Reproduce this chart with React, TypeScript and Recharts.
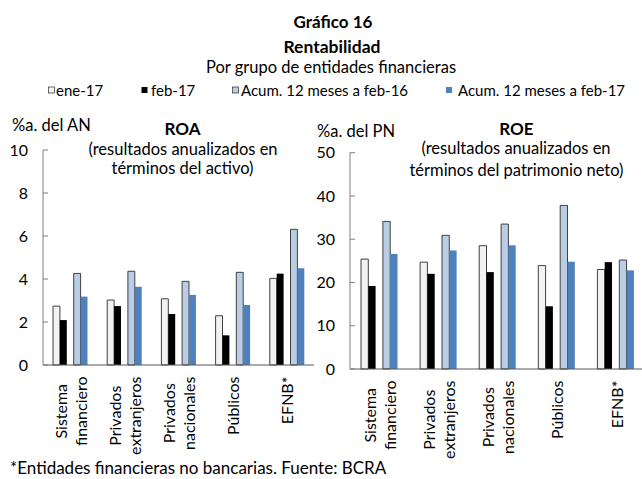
import React from "react";
import { BarChart, Bar, XAxis, YAxis } from "recharts";

const categories = ["Sistema financiero", "Privados extranjeros", "Privados nacionales", "Públicos", "EFNB*"];

// ROA (% a. del activo neteado)
const roaEne17 = [2.74, 3.02, 3.08, 2.29, 4.03];
const roaFeb17 = [2.09, 2.74, 2.37, 1.38, 4.25];
const roaAcum16 = [4.26, 4.36, 3.89, 4.31, 6.31];
const roaAcum17 = [3.18, 3.64, 3.26, 2.79, 4.5];

// ROE (% a. del patrimonio neto)
const roeEne17 = [25.4, 24.7, 28.5, 23.9, 23.0];
const roeFeb17 = [19.2, 22.0, 22.4, 14.5, 24.7];
const roeAcum16 = [34.1, 30.9, 33.5, 37.8, 25.2];
const roeAcum17 = [26.6, 27.4, 28.6, 24.8, 22.8];

const roaTicks = [0, 2, 4, 6, 8, 10];
const roeTicks = [0, 10, 20, 30, 40, 50];

const legendLabels = ["ene-17", "feb-17", "Acum. 12 meses a feb-16", "Acum. 12 meses a feb-17"];

const FONT = "Lato, sans-serif";
const C_ENE = "#f2f2f2";
const C_FEB = "#000000";
const C_A16 = "#b9cde5";
const C_A17 = "#4f81bd";
const OUTLINE = "#404040";

const roaData = categories.map((name, i) => ({
  name,
  ene: roaEne17[i],
  feb: roaFeb17[i],
  a16: roaAcum16[i],
  a17: roaAcum17[i],
}));

const roeData = categories.map((name, i) => ({
  name,
  ene: roeEne17[i],
  feb: roeFeb17[i],
  a16: roeAcum16[i],
  a17: roeAcum17[i],
}));

let ctx: CanvasRenderingContext2D | null = null;
function textWidth(t: string, font: string) {
  if (!ctx) ctx = document.createElement("canvas").getContext("2d");
  if (!ctx) return t.length * 8;
  ctx.font = font;
  return ctx.measureText(t).width;
}

function YTick(props: any) {
  const { x, y, payload } = props;
  return (
    <g>
      <line x1={x} x2={x + 5} y1={y} y2={y} stroke="#7f7f7f" />
      <text x={x - 15} y={y} dy="0.35em" textAnchor="end" fontSize={16} fontFamily={FONT} fill="#000">
        {payload.value}
      </text>
    </g>
  );
}

// category labels: rotated, one word per line, block aligned to the axis
function CatTick(props: any) {
  const { x, y, payload } = props;
  const lines: string[] = String(payload.value).split(" ");
  const maxW = Math.max(...lines.map((l) => textWidth(l, `16px Lato`)));
  const cy = y + 11.5 + maxW / 2;
  return (
    <g>
      {lines.map((l, i) => {
        const lx = x + (i - (lines.length - 1) / 2) * 20 + 1;
        return (
          <text
            key={i}
            x={lx}
            y={cy}
            dy="0.35em"
            textAnchor="middle"
            transform={`rotate(-90, ${lx}, ${cy})`}
            fontSize={16}
            fontFamily={FONT}
            fill="#000"
          >
            {l}
          </text>
        );
      })}
    </g>
  );
}

function Panel({ data, width, margin, yWidth, domain, ticks, barSize }: any) {
  return (
    <BarChart width={width} height={479} data={data} margin={margin} barGap={0} barSize={barSize}>
      <XAxis
        dataKey="name"
        interval={0}
        height={100}
        tickLine={false}
        tickSize={0}
        tickMargin={0}
        axisLine={{ stroke: "#595959" }}
        tick={(p: any) => <CatTick {...p} />}
      />
      <YAxis
        width={yWidth}
        domain={domain}
        ticks={ticks}
        interval={0}
        tickLine={false}
        tickSize={0}
        tickMargin={0}
        axisLine={{ stroke: "#7f7f7f" }}
        tick={(p: any) => <YTick {...p} />}
      />
      <Bar dataKey="ene" fill={C_ENE} stroke={OUTLINE} strokeWidth={1} isAnimationActive={false} />
      <Bar dataKey="feb" fill={C_FEB} isAnimationActive={false} />
      {/* empty slot: space between the monthly pair and the 12-month pair */}
      <Bar dataKey="gap" fill="none" legendType="none" isAnimationActive={false} />
      <Bar dataKey="a16" fill={C_A16} stroke={OUTLINE} strokeWidth={1} isAnimationActive={false} />
      <Bar dataKey="a17" fill={C_A17} isAnimationActive={false} />
    </BarChart>
  );
}

const legendItems = [
  { sq: 48.5, tx: 56, fill: C_ENE, stroke: OUTLINE },
  { sq: 141.5, tx: 151, fill: C_FEB, stroke: "none" },
  { sq: 232.5, tx: 241, fill: C_A16, stroke: OUTLINE },
  { sq: 446, tx: 458, fill: C_A17, stroke: "none" },
];

export default function App() {
  return (
    <div
      style={{
        position: "absolute",
        left: 0,
        top: 0,
        width: 642,
        height: 479,
        overflow: "hidden",
        background: "#fff",
        fontFamily: FONT,
      }}
    >
      <div style={{ position: "absolute", left: 0, top: 0 }}>
        <Panel
          data={roaData}
          width={320}
          margin={{ top: 150, right: 6, left: 0, bottom: 14 }}
          yWidth={43}
          domain={[0, 10]}
          ticks={roaTicks}
          barSize={6.9}
        />
      </div>
      <div style={{ position: "absolute", left: 300, top: 0 }}>
        <Panel
          data={roeData}
          width={350}
          margin={{ top: 152.7, right: 4.5, left: 0, bottom: 10 }}
          yWidth={50}
          domain={[0, 50]}
          ticks={roeTicks}
          barSize={7.3}
        />
      </div>
      <svg
        width={642}
        height={479}
        style={{ position: "absolute", left: 0, top: 0, pointerEvents: "none" }}
        fontFamily={FONT}
      >
        <text x={333} y={28} textAnchor="middle" fontSize={17} fontWeight="bold">Gráfico 16</text>
        <text x={332} y={53} textAnchor="middle" fontSize={17.5} fontWeight="bold">Rentabilidad</text>
        <text x={331} y={73} textAnchor="middle" fontSize={16.5}>Por grupo de entidades financieras</text>

        {legendItems.map((it, i) => (
          <g key={i}>
            <rect x={it.sq} y={87} width={6} height={6} fill={it.fill} stroke={it.stroke} strokeWidth={0.8} />
            <text x={it.tx} y={96} fontSize={15}>{legendLabels[i]}</text>
          </g>
        ))}

        <text x={12} y={131} fontSize={16.5}>%a. del AN</text>
        <text x={182.5} y={135} textAnchor="middle" fontSize={17} fontWeight="bold">ROA</text>
        <text x={183} y={155} textAnchor="middle" fontSize={16.5}>(resultados anualizados en</text>
        <text x={182.5} y={174} textAnchor="middle" fontSize={16.5}>términos del activo)</text>

        <text x={317} y={137} fontSize={16.5}>%a. del PN</text>
        <text x={516.5} y={135} textAnchor="middle" fontSize={17} fontWeight="bold">ROE</text>
        <text x={516} y={154} textAnchor="middle" fontSize={16.5}>(resultados anualizados en</text>
        <text x={516.5} y={175.5} textAnchor="middle" fontSize={16.5}>términos del patrimonio neto)</text>

        <text x={10} y={474} fontSize={17}>*Entidades financieras no bancarias. Fuente: BCRA</text>
      </svg>
    </div>
  );
}
